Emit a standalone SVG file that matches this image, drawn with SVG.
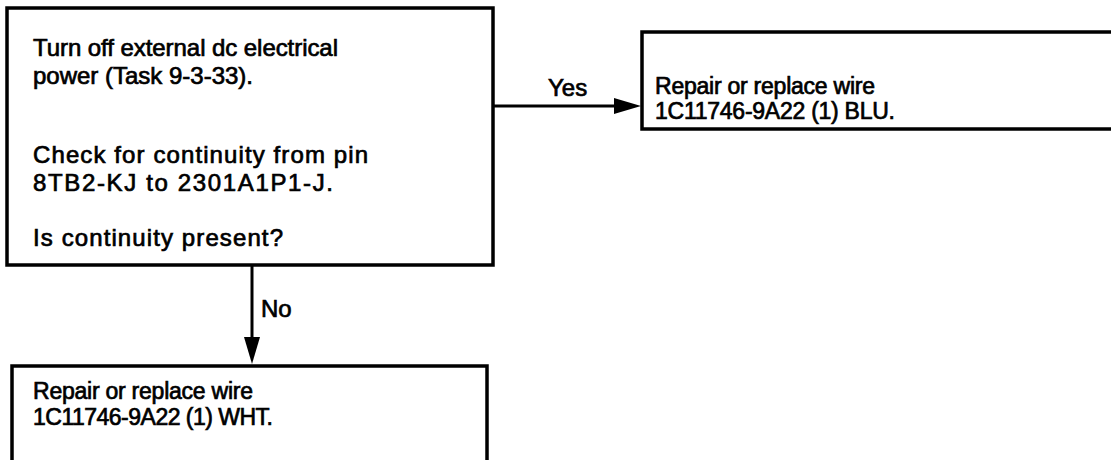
<svg xmlns="http://www.w3.org/2000/svg" width="1111" height="460" viewBox="0 0 1111 460">
<defs>
<style>
.box{fill:#fff;stroke:#000;stroke-width:3.5}
.t{font-family:"Liberation Sans",Arial,sans-serif;font-size:24px;fill:#000;stroke:#000;stroke-width:0.7}
.s{font-size:23px}
.line{stroke:#000;stroke-width:3;fill:none}
</style>
</defs>
<rect width="1111" height="460" fill="#fff"/>
<g id="connectors">
<line class="line" x1="493" y1="106" x2="617" y2="106"/>
<path d="M614,98 L641,106 L614,114 Z" fill="#000"/>
<text class="t" x="548" y="96">Yes</text>
<line class="line" x1="252" y1="265" x2="252" y2="340"/>
<path d="M244,337 L252,364 L260,337 Z" fill="#000"/>
<text class="t" x="261" y="317">No</text>
</g>
<g id="node-check">
<rect class="box" x="7" y="8" width="486" height="257"/>
<text class="t" x="33" y="56" textLength="305" lengthAdjust="spacing">Turn off external dc electrical</text>
<text class="t" x="33" y="84" textLength="220" lengthAdjust="spacing">power (Task 9-3-33).</text>
<text class="t" x="33" y="163" textLength="335" lengthAdjust="spacing">Check for continuity from pin</text>
<text class="t" x="33" y="191" textLength="300" lengthAdjust="spacing">8TB2-KJ to 2301A1P1-J.</text>
<text class="t" x="33" y="246" textLength="250" lengthAdjust="spacing">Is continuity present?</text>
</g>
<g id="node-blu">
<rect class="box" x="642" y="32" width="480" height="97"/>
<text class="t s" x="655" y="94" textLength="220" lengthAdjust="spacing">Repair or replace wire</text>
<text class="t s" x="655" y="119" textLength="240" lengthAdjust="spacing">1C11746-9A22 (1) BLU.</text>
</g>
<g id="node-wht">
<rect class="box" x="12" y="366" width="475" height="100"/>
<text class="t s" x="33" y="399" textLength="220" lengthAdjust="spacing">Repair or replace wire</text>
<text class="t s" x="33" y="425" textLength="240" lengthAdjust="spacing">1C11746-9A22 (1) WHT.</text>
</g>
</svg>
